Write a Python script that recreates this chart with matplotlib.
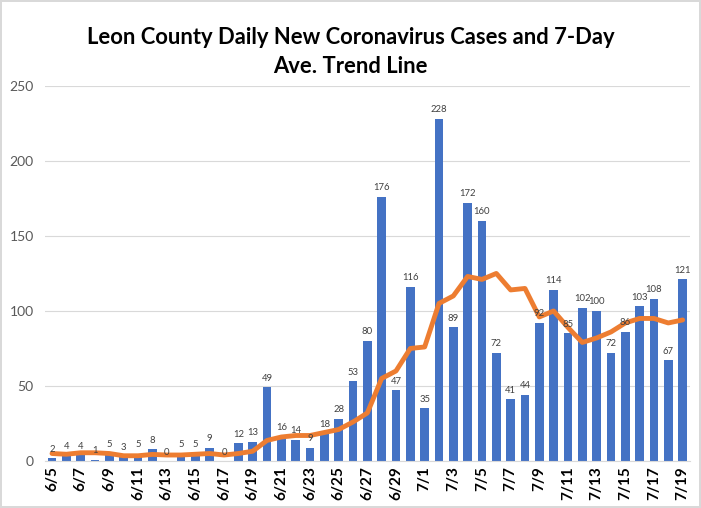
import matplotlib.pyplot as plt
import numpy as np

dates = ["6/5", "6/6", "6/7", "6/8", "6/9", "6/10", "6/11", "6/12", "6/13", "6/14",
         "6/15", "6/16", "6/17", "6/18", "6/19", "6/20", "6/21", "6/22", "6/23", "6/24",
         "6/25", "6/26", "6/27", "6/28", "6/29", "6/30", "7/1", "7/2", "7/3", "7/4",
         "7/5", "7/6", "7/7", "7/8", "7/9", "7/10", "7/11", "7/12", "7/13", "7/14",
         "7/15", "7/16", "7/17", "7/18", "7/19"]
cases = [2, 4, 4, 1, 5, 3, 5, 8, 0, 5,
         5, 9, 0, 12, 13, 49, 16, 14, 9, 18,
         28, 53, 80, 176, 47, 116, 35, 228, 89, 172,
         160, 72, 41, 44, 92, 114, 85, 102, 100, 72,
         86, 103, 108, 67, 121]
# 7-day average
trend = [5, 4.5, 5.5, 5.5, 5, 3.5, 3.5, 4.4, 4, 4,
         4.5, 5, 4, 5, 6.5, 13.7, 16, 17, 17, 19,
         21, 26, 32, 55, 60, 75, 76, 105, 110, 123,
         121, 125, 114, 115, 96, 100, 89, 79, 82, 86,
         92, 95, 95, 92, 94]

plt.rcParams['font.family'] = ['Lato', 'DejaVu Sans']

fig = plt.figure(figsize=(7.01, 5.08), dpi=100)
fig.patch.set_edgecolor('#d9d9d9')
fig.patch.set_linewidth(1.5)
ax = fig.add_axes([0.064, 0.0925, 0.92, 0.7385])

x = np.arange(len(dates))
bars = ax.bar(x, cases, width=0.62, color='#4472C4', zorder=2)
ax.plot(x, trend, color='#ED7D31', linewidth=3.5, solid_capstyle='round', zorder=4)
# labels sit on top of the trend line
for xi, v in zip(x, cases):
    ax.text(xi, v + 3, str(v), ha='center', va='bottom', fontsize=6.8, color='#404040', zorder=5)

ax.set_xlim(-0.5, len(dates) - 0.5)
ax.set_ylim(0, 250)
ax.set_yticks(range(0, 251, 50))
ax.set_xticks(x[::2])
ax.set_xticklabels(dates[::2], rotation=90, fontsize=11, fontweight='bold', color='#000000')
ax.tick_params(axis='y', labelsize=10, colors='#595959', length=0, pad=8)
ax.tick_params(axis='x', length=0, pad=4)
ax.grid(axis='y', color='#d9d9d9', linewidth=0.8, zorder=0)
for s in ['top', 'right', 'left']:
    ax.spines[s].set_visible(False)
ax.spines['bottom'].set_color('#d9d9d9')

fig.text(0.5, 0.947, "Leon County Daily New Coronavirus Cases and 7-Day\nAve. Trend Line",
         ha='center', va='top', fontsize=15.8, fontweight='bold', linespacing=1.45)

fig.savefig('out.png', dpi=100)
